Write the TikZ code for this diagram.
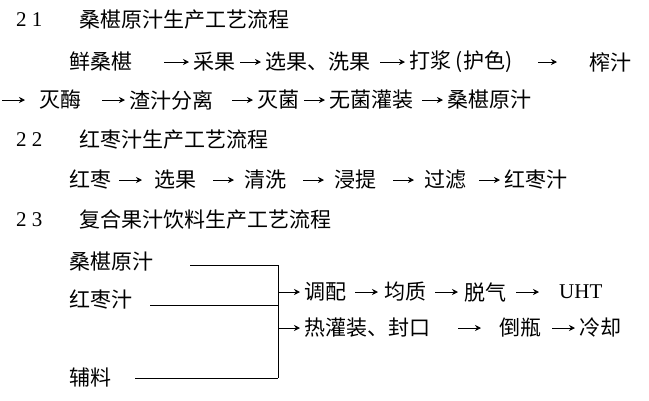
\documentclass[tikz,border=0pt]{standalone}
\usepackage{fontspec}
\newfontfamily\cjk{Noto Sans CJK SC}
\setmainfont{Liberation Serif}
\usetikzlibrary{arrows.meta, positioning}

\begin{document}
\begin{tikzpicture}[x=1pt, y=1pt,
    txt/.style={anchor=west, inner sep=1pt, font=\cjk\fontsize{21}{23}\selectfont},
    num/.style={anchor=west, inner sep=1pt, font=\fontsize{21}{23}\selectfont},
    arrow/.style={-{Stealth[length=6pt,width=6pt]}, line width=0.8pt, shorten >=3pt},
    rule/.style={line width=0.8pt}
]
\useasboundingbox (0,0) rectangle (649,-400);

% 2.1
\node[num] (n1) at (15,-20) {2 1};
\node[txt] (t1) at (78,-20) {桑椹原汁生产工艺流程};
\node[txt] (a1) at (68,-62) {鲜桑椹};
\node[txt] (a2) at (192,-62) {采果};
\node[txt] (a3) at (264,-62) {选果、洗果};
\node[txt] (a4) at (408,-62) {打浆 (护色)};
\node[txt] (a5) at (588,-62) {榨汁};
\node[txt] (b1) at (38,-100) {灭酶};
\node[txt] (b2) at (128,-100) {渣汁分离};
\node[txt] (b3) at (256,-100) {灭菌};
\node[txt] (b4) at (328,-100) {无菌灌装};
\node[txt] (b5) at (446,-100) {桑椹原汁};
\draw[arrow] ([xshift=-28pt]a2.west) -- (a2.west);
\draw[arrow] ([xshift=-24pt]a3.west) -- (a3.west);
\draw[arrow] ([xshift=-28pt]a4.west) -- (a4.west);
\draw[arrow] ([xshift=-50pt]a5.west) -- ([xshift=-28pt]a5.west);
\draw[arrow] ([xshift=-36pt]b1.west) -- ([xshift=-10pt]b1.west);
\draw[arrow] ([xshift=-26pt]b2.west) -- (b2.west);
\draw[arrow] ([xshift=-24pt]b3.west) -- (b3.west);
\draw[arrow] ([xshift=-24pt]b4.west) -- (b4.west);
\draw[arrow] ([xshift=-24pt]b5.west) -- (b5.west);

% 2.2
\node[num] (n2) at (15,-140) {2 2};
\node[txt] (t2) at (78,-140) {红枣汁生产工艺流程};
\node[txt] (c1) at (68,-180) {红枣};
\node[txt] (c2) at (153,-180) {选果};
\node[txt] (c3) at (243,-180) {清洗};
\node[txt] (c4) at (333,-180) {浸提};
\node[txt] (c5) at (423,-180) {过滤};
\node[txt] (c6) at (503,-180) {红枣汁};
\draw[arrow] ([xshift=-34pt]c2.west) -- ([xshift=-8pt]c2.west);
\draw[arrow] ([xshift=-30pt]c3.west) -- ([xshift=-6pt]c3.west);
\draw[arrow] ([xshift=-30pt]c4.west) -- ([xshift=-6pt]c4.west);
\draw[arrow] ([xshift=-30pt]c5.west) -- ([xshift=-6pt]c5.west);
\draw[arrow] ([xshift=-24pt]c6.west) -- (c6.west);

% 2.3
\node[num] (n3) at (15,-220) {2 3};
\node[txt] (t3) at (78,-220) {复合果汁饮料生产工艺流程};
\node[txt] (d1) at (68,-262) {桑椹原汁};
\node[txt] (d2) at (68,-300) {红枣汁};
\node[txt] (d3) at (68,-378) {辅料};
\coordinate (j1) at (278,-265);
\coordinate (j2) at (278,-305);
\coordinate (j3) at (278,-378);
\draw[rule] (190,-265) -- (j1);
\draw[rule] (150,-305) -- (j2);
\draw[rule] (135,-378) -- (j3);
\draw[rule] (j1) -- (j3);
\node[txt] (e1) at (303,-292) {调配};
\node[txt] (e2) at (383,-292) {均质};
\node[txt] (e3) at (463,-292) {脱气};
\node[num] (e4) at (558,-292) {UHT};
\node[txt] (f1) at (303,-328) {热灌装、封口};
\node[txt] (f2) at (498,-328) {倒瓶};
\node[txt] (f3) at (578,-328) {冷却};
\draw[arrow] (j1 |- e1) -- (e1.west);
\draw[arrow] ([xshift=-28pt]e2.west) -- ([xshift=-2pt]e2.west);
\draw[arrow] ([xshift=-28pt]e3.west) -- ([xshift=-2pt]e3.west);
\draw[arrow] ([xshift=-42pt]e4.west) -- ([xshift=-16pt]e4.west);
\draw[arrow] (j1 |- f1) -- (f1.west);
\draw[arrow] ([xshift=-40pt]f2.west) -- ([xshift=-14pt]f2.west);
\draw[arrow] ([xshift=-26pt]f3.west) -- (f3.west);
\end{tikzpicture}
\end{document}
